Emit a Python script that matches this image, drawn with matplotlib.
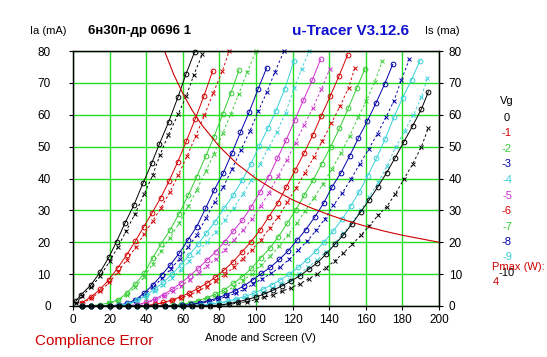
import matplotlib.pyplot as plt

# Vg = 0
va0 = [1.5, 4.2, 9.8, 14.8, 19.7, 23.8, 28.4, 33.3, 38.3, 43.0, 47.2, 52.3, 57.4, 61.7, 66.5]
ia0 = [1.5, 3.4, 6.6, 10.6, 15.4, 20.2, 26.0, 31.7, 38.6, 44.8, 50.8, 57.8, 65.6, 72.7, 79.8]
vs0 = [1.5, 4.7, 10.0, 15.0, 20.0, 24.5, 29.0, 34.0, 38.8, 43.5, 47.5, 52.0, 57.5, 62.0, 66.0, 70.7]
is0 = [0.8, 3.0, 6.0, 9.5, 14.0, 18.5, 23.5, 29.0, 35.0, 41.0, 47.3, 53.6, 60.2, 66.0, 72.5, 79.0]

# Vg = -1
va1 = [4.8, 9.7, 14.8, 19.7, 24.5, 29.3, 34.0, 38.6, 43.3, 48.0, 52.6, 57.3, 62.0, 66.7, 71.5, 76.3]
ia1 = [1.0, 2.8, 5.2, 8.3, 12.0, 16.0, 20.3, 24.8, 29.3, 34.0, 39.3, 45.3, 51.8, 58.6, 65.8, 73.7]
vs1 = [4.8, 9.8, 14.9, 19.8, 24.6, 29.4, 34.2, 38.8, 43.5, 48.2, 52.9, 57.6, 62.3, 67.0, 71.8, 76.6, 81.6, 85.4]
is1 = [0.8, 2.4, 4.6, 7.4, 10.8, 14.5, 18.4, 22.5, 26.6, 30.9, 35.7, 41.1, 47.0, 53.2, 59.8, 66.8, 73.7, 80.0]

# Vg = -2
va2 = [5, 10, 15, 19.8, 24.6, 29.3, 33.9, 38.8, 43.5, 48.0, 53.0, 58.0, 63.0, 67.6, 72.5, 77.0, 81.8, 86.2, 90.7]
ia2 = [0, 0.1, 0.4, 1.0, 1.9, 4.0, 6.8, 10.2, 15.0, 19.4, 23.8, 29.0, 34.8, 40.5, 47.0, 53.0, 60.2, 66.7, 74.0]
vs2 = [5, 10, 15, 19.8, 24.6, 29.3, 33.9, 38.8, 43.5, 48.0, 53.0, 58.0, 63.0, 67.6, 72.5, 77.0, 81.8, 86.2, 90.5, 95.3, 100.0]
is2 = [0, 0.1, 0.3, 0.8, 1.6, 3.4, 6.0, 9.0, 13.3, 17.3, 21.3, 26.0, 31.3, 36.4, 42.3, 47.7, 54.2, 60.2, 66.4, 73.5, 80.0]

# Vg = -3
va3 = [5, 10, 15, 20, 25, 29.6, 34.0, 38.8, 43.6, 48.4, 53.2, 58.0, 62.8, 67.6, 72.4, 77.2, 82.0, 86.8, 91.5, 96.3, 101.1, 105.8]
ia3 = [0, 0, 0, 0.1, 0.3, 0.8, 1.9, 4.0, 6.6, 9.7, 12.9, 16.5, 20.7, 24.9, 30.6, 36.4, 41.6, 47.9, 54.5, 60.9, 68.0, 74.7]
vs3 = [5, 10, 15, 20, 25, 29.8, 34.3, 39.0, 43.8, 48.6, 53.4, 58.2, 63.0, 67.8, 72.6, 77.4, 82.2, 87.0, 91.8, 96.6, 101.3, 106.0, 110.4, 115.3]
is3 = [0, 0, 0, 0.1, 0.3, 0.7, 1.7, 3.6, 5.9, 8.7, 11.6, 14.8, 18.6, 22.4, 27.5, 32.7, 37.4, 43.1, 49.0, 54.8, 61.2, 67.2, 73.5, 80.0]

# Vg = -4
va4 = [5, 10, 15, 20, 25, 30, 35, 40, 44.7, 49.3, 54.2, 58.8, 63.5, 68.3, 72.7, 77.6, 82.5, 87.6, 92.5, 97.1, 101.8, 106.4, 110.9, 115.8, 120.8]
ia4 = [0, 0, 0, 0, 0.2, 0.7, 1.8, 3.4, 5.3, 7.5, 10.0, 12.8, 16.0, 19.3, 22.8, 26.4, 30.6, 34.8, 39.5, 44.5, 50.2, 55.7, 61.3, 68.2, 77.0]
vs4 = [5, 10, 15, 20, 25, 30, 35, 40, 44.7, 49.3, 54.2, 58.8, 63.5, 68.3, 73.0, 77.9, 82.8, 87.8, 92.7, 97.4, 102.1, 106.8, 111.3, 116.2, 121.0, 125.0, 129.0]
is4 = [0, 0, 0, 0, 0.1, 0.5, 1.5, 2.9, 4.6, 6.6, 8.8, 11.3, 14.1, 17.0, 20.1, 23.3, 27.0, 30.8, 35.0, 39.5, 44.5, 49.5, 54.5, 60.7, 68.5, 74.5, 80.0]

# Vg = -5
va5 = [5, 10, 15, 20, 25, 30, 35, 40, 44.7, 49.5, 54.3, 59.0, 63.7, 68.4, 73.2, 78.0, 82.9, 87.7, 92.6, 97.4,
       102.2, 106.9, 111.7, 116.4, 121.2, 125.9, 130.7, 135.3]
ia5 = [0, 0, 0, 0, 0, 0.1, 0.4, 1.1, 2.2, 3.6, 5.3, 7.2, 9.4, 11.8, 14.4, 17.0, 20.2, 23.6, 27.0, 31.1,
       35.8, 40.5, 46.3, 52.0, 58.3, 64.6, 70.8, 77.4]
vs5 = [5, 10, 15, 20, 25, 30, 35, 40, 44.8, 49.7, 54.4, 59.2, 63.9, 68.6, 73.4, 78.2, 83.1, 88.0, 92.9, 97.7,
       102.5, 107.2, 112.0, 116.8, 121.6, 126.3, 131.1, 135.7, 140.4]
is5 = [0, 0, 0, 0, 0, 0.1, 0.3, 0.9, 1.9, 3.1, 4.6, 6.3, 8.2, 10.3, 12.6, 14.9, 17.7, 20.7, 23.7, 27.3,
       31.4, 35.6, 40.7, 45.7, 51.2, 56.8, 62.2, 68.0, 74.5]

# Vg = -6
va6 = [5, 10, 15, 20, 25, 30, 35, 40, 44.7, 49.3, 54.2, 58.8, 63.6, 68.3, 73.0, 77.8, 82.6, 87.5, 92.4, 97.3,
       102.2, 107.0, 111.8, 116.6, 121.4, 126.2, 131.0, 135.7, 140.6, 145.4, 150.0]
ia6 = [0, 0, 0, 0, 0, 0, 0, 0.2, 0.5, 1.1, 1.9, 2.9, 4.1, 5.5, 7.1, 9.0, 11.3, 13.9, 17.0, 20.2,
       23.8, 28.0, 32.2, 37.4, 42.6, 47.9, 53.6, 59.7, 65.9, 72.2, 78.7]
vs6 = [5, 10, 15, 20, 25, 30, 35, 40, 44.8, 49.4, 54.3, 59.0, 63.8, 68.5, 73.2, 78.0, 82.9, 87.8, 92.7, 97.6,
       102.6, 107.4, 112.2, 117.1, 121.9, 126.7, 131.5, 136.3, 141.2, 146.0, 150.6, 154.0]
is6 = [0, 0, 0, 0, 0, 0, 0, 0.1, 0.4, 0.9, 1.6, 2.5, 3.5, 4.7, 6.1, 7.8, 9.8, 12.1, 14.8, 17.6,
       20.7, 24.4, 28.0, 32.5, 37.1, 41.7, 46.6, 51.9, 57.3, 62.8, 68.5, 74.7]

# Vg = -7
va7 = [5, 10, 15, 20, 25, 30, 35, 40, 45, 50, 54.5, 59.0, 63.8, 68.4, 73.2, 77.8, 82.6, 87.6, 92.6, 97.5,
       102.5, 107.5, 112.2, 117.0, 121.7, 126.4, 131.2, 136.0, 140.8, 145.6, 150.4, 155.0, 159.6]
ia7 = [0, 0, 0, 0, 0, 0, 0, 0, 0, 0.1, 0.2, 0.5, 1.0, 1.7, 2.6, 3.7, 5.0, 7.1, 9.2, 11.8,
       15.0, 18.1, 21.7, 25.9, 30.1, 34.8, 39.5, 44.7, 50.0, 55.7, 62.0, 68.3, 74.5]
vs7 = [5, 10, 15, 20, 25, 30, 35, 40, 45, 50, 54.5, 59.1, 63.9, 68.5, 73.3, 78.0, 82.8, 87.8, 92.8, 97.7,
       102.8, 107.8, 112.6, 117.4, 122.2, 126.9, 131.8, 136.6, 141.5, 146.3, 151.1, 155.8, 160.3, 164.8, 169.0]
is7 = [0, 0, 0, 0, 0, 0, 0, 0, 0, 0.1, 0.1, 0.4, 0.8, 1.4, 2.2, 3.1, 4.3, 6.0, 7.9, 10.1,
       12.9, 15.6, 18.7, 22.3, 25.9, 29.9, 34.0, 38.4, 43.0, 47.9, 53.3, 59.2, 64.3, 70.2, 76.8]

# Vg = -8
va8 = [5, 10, 15, 20, 25, 30, 35, 40, 45, 50, 55, 59.8, 64.6, 69.5, 74.2, 79.0, 83.8, 88.6, 93.4, 98.2,
       103.0, 107.8, 112.7, 117.6, 122.5, 127.3, 132.2, 136.9, 141.6, 146.4, 151.1, 155.9, 160.8, 165.6, 170.4, 174.7]
ia8 = [0, 0, 0, 0, 0, 0, 0, 0, 0, 0, 0.1, 0.2, 0.5, 1.0, 1.7, 2.5, 3.6, 4.8, 6.3, 8.2,
       10.2, 12.1, 14.6, 17.3, 20.7, 24.0, 28.0, 32.2, 37.4, 41.8, 47.0, 52.6, 58.0, 63.7, 69.8, 75.8]
vs8 = [5, 10, 15, 20, 25, 30, 35, 40, 45, 50, 55, 59.8, 64.7, 69.6, 74.4, 79.2, 84.0, 88.9, 93.7, 98.6,
       103.4, 108.3, 113.2, 118.1, 123.0, 127.9, 132.8, 137.5, 142.3, 147.1, 151.9, 156.7, 161.6, 166.4, 171.1,
       175.4, 179.5, 183.8]
is8 = [0, 0, 0, 0, 0, 0, 0, 0, 0, 0, 0.1, 0.2, 0.4, 0.8, 1.4, 2.1, 3.0, 4.0, 5.3, 6.9,
       8.6, 10.2, 12.3, 14.6, 17.5, 20.3, 23.7, 27.2, 31.6, 35.4, 39.8, 44.6, 49.2, 54.1, 59.3,
       64.4, 71.0, 77.4]

# Vg = -9
va9 = [5, 10, 15, 20, 25, 30, 35, 40, 45, 50, 55, 60, 65, 70, 75, 79.6, 84.5, 89.2, 94.0, 98.8,
       103.6, 108.5, 113.3, 118.2, 123.0, 127.8, 132.6, 137.4, 142.2, 147.0, 151.7, 156.4, 161.0, 165.8,
       170.5, 175.4, 180.2, 185.0, 189.6]
ia9 = [0, 0, 0, 0, 0, 0, 0, 0, 0, 0, 0, 0, 0.1, 0.3, 0.6, 1.0, 1.5, 2.2, 3.0, 4.0,
       5.2, 6.6, 8.2, 10.0, 12.1, 14.5, 17.2, 20.2, 23.5, 27.2, 31.3, 35.8, 40.8, 46.3,
       52.3, 59.3, 65.4, 71.0, 77.0]
vs9 = [5, 10, 15, 20, 25, 30, 35, 40, 45, 50, 55, 60, 65, 70.1, 75.2, 79.8, 84.8, 89.4, 94.3, 99.2,
       104.0, 109.0, 113.8, 118.7, 123.6, 128.4, 133.3, 138.1, 142.9, 147.7, 152.5, 157.3, 161.9, 166.8,
       171.6, 176.4, 181.3, 186.0, 190.4, 193.6]
is9 = [0, 0, 0, 0, 0, 0, 0, 0, 0, 0, 0, 0, 0.1, 0.2, 0.5, 0.8, 1.2, 1.8, 2.5, 3.3,
       4.3, 5.5, 6.8, 8.3, 10.1, 12.1, 14.4, 16.9, 19.7, 22.8, 26.2, 30.0, 34.2, 38.8,
       43.8, 50.0, 55.0, 60.0, 65.5, 71.6]

# Vg = -10
va10 = [5, 10, 15, 20, 25, 30, 35, 40, 45, 50, 55, 60, 65, 70, 75, 80, 85, 90, 95, 100,
        104.5, 109.5, 114.2, 119.0, 124.0, 128.7, 133.5, 138.3, 143.0, 147.8, 152.5, 157.3, 162.0, 166.6,
        171.4, 176.0, 180.8, 185.6, 190.4, 194.2]
ia10 = [0, 0, 0, 0, 0, 0, 0, 0, 0, 0, 0, 0, 0, 0, 0.1, 0.3, 0.7, 1.3, 2.0, 2.8,
        3.8, 5.0, 6.3, 7.8, 9.5, 11.5, 13.5, 16.3, 19.3, 22.3, 25.8, 29.6, 33.4, 37.4,
        41.8, 46.5, 51.5, 56.5, 61.8, 67.2]
vs10 = [5, 10, 15, 20, 25, 30, 35, 40, 45, 50, 55, 60, 65, 70, 75, 80, 85, 90, 95, 100,
        104.5, 109.5, 114.2, 119.0, 124.0, 128.7, 133.5, 138.3, 143.0, 147.8, 152.5, 157.3, 162.0, 166.6,
        171.4, 176.0, 180.8, 185.6, 190.4, 194.2]
is10 = [0, 0, 0, 0, 0, 0, 0, 0, 0, 0, 0, 0, 0, 0, 0, 0.2, 0.5, 0.9, 1.4, 2.0,
        2.7, 3.6, 4.6, 5.7, 7.0, 8.5, 10.1, 12.0, 14.2, 16.6, 19.3, 22.2, 25.2, 28.4,
        31.2, 35.0, 39.8, 44.5, 50.0, 55.9]

# max dissipation curve, 4 W
pmax_v = [50, 55, 60, 65, 70, 80, 90, 100, 110, 120, 130, 140, 150, 160, 170, 180, 190, 200]
pmax_i = [80.0, 72.7, 66.7, 61.5, 57.1, 50.0, 44.4, 40.0, 36.4, 33.3, 30.8, 28.6, 26.7, 25.0, 23.5, 22.2, 21.1, 20.0]

vg_labels = ['0', '-1', '-2', '-3', '-4', '-5', '-6', '-7', '-8', '-9', '-10']
colors = ['#000000', '#d40000', '#33cc33', '#0000a8', '#38d0d8', '#cc30cc',
          '#d40000', '#33cc33', '#0000a8', '#38d0d8', '#000000']

va_all = [va0, va1, va2, va3, va4, va5, va6, va7, va8, va9, va10]
ia_all = [ia0, ia1, ia2, ia3, ia4, ia5, ia6, ia7, ia8, ia9, ia10]
vs_all = [vs0, vs1, vs2, vs3, vs4, vs5, vs6, vs7, vs8, vs9, vs10]
is_all = [is0, is1, is2, is3, is4, is5, is6, is7, is8, is9, is10]

plt.rcParams['font.family'] = ['Liberation Sans', 'DejaVu Sans']

W, H = 547, 357
fig = plt.figure(figsize=(W / 100, H / 100), dpi=100)
ax = fig.add_axes([73 / W, 1 - 306 / H, 366 / W, 255 / H])
ax.set_xlim(0, 200)
ax.set_ylim(0, 80)
ax.set_xticks(range(0, 201, 20))
ax.set_yticks(range(0, 81, 10))
ax.set_axisbelow(True)
ax.grid(True, color='#22dd22', lw=1.0)
for s in ax.spines.values():
    s.set_color('black')
    s.set_linewidth(1.0)
ax.tick_params(axis='x', length=3, width=0.8, pad=2.5, labelsize=8.5)
ax.tick_params(axis='y', length=3, width=0.8, pad=13, labelsize=8.5)

ax2 = ax.twinx()
ax2.set_ylim(0, 80)
ax2.set_yticks(range(0, 81, 10))
ax2.tick_params(axis='y', length=3, width=0.8, pad=4, labelsize=8.5)

for va, ia, vs, is_, c in zip(va_all, ia_all, vs_all, is_all, colors):
    ax.plot(va, ia, '-', color=c, lw=0.7, marker='o', ms=3.4, mfc='none', mew=0.7, clip_on=False)
    ax.plot(vs, is_, linestyle=(0, (2.5, 2.5)), color=c, lw=0.7, marker='x', ms=3.2, mew=0.7, clip_on=False)

ax.plot(pmax_v, pmax_i, '-', color='#cc0000', lw=0.8)

# header texts
fig.text(30 / W, 1 - 31 / H, 'Ia (mA)', fontsize=8, va='center', ha='left')
fig.text(88 / W, 1 - 31 / H, '6н30п-др 0696 1', fontsize=9.5, fontweight='bold', va='center', ha='left')
fig.text(292 / W, 1 - 31 / H, 'u-Tracer V3.12.6', fontsize=11, fontweight='bold', color='#1010d0',
         va='center', ha='left')
fig.text(425 / W, 1 - 31 / H, 'Is (ma)', fontsize=8, va='center', ha='left')

fig.text(260 / W, 1 - 338 / H, 'Anode and Screen (V)', fontsize=8, va='center', ha='center')
fig.text(35 / W, 1 - 341 / H, 'Compliance Error', fontsize=11, color='#cc0000', va='center', ha='left')

# grid voltage legend
fig.text(507 / W, 1 - 101 / H, 'Vg', fontsize=8, va='center', ha='center')
for k, (lab, c) in enumerate(zip(vg_labels, colors)):
    fig.text(507 / W, 1 - (118 + 15.5 * k) / H, lab, fontsize=8, color=c, va='center', ha='center')
fig.text(492 / W, 1 - 267 / H, 'Pmax (W):', fontsize=8, color='#cc0000', va='center', ha='left')
fig.text(493 / W, 1 - 282 / H, '4', fontsize=8, color='#cc0000', va='center', ha='left')

fig.savefig('out.png', dpi=100)
